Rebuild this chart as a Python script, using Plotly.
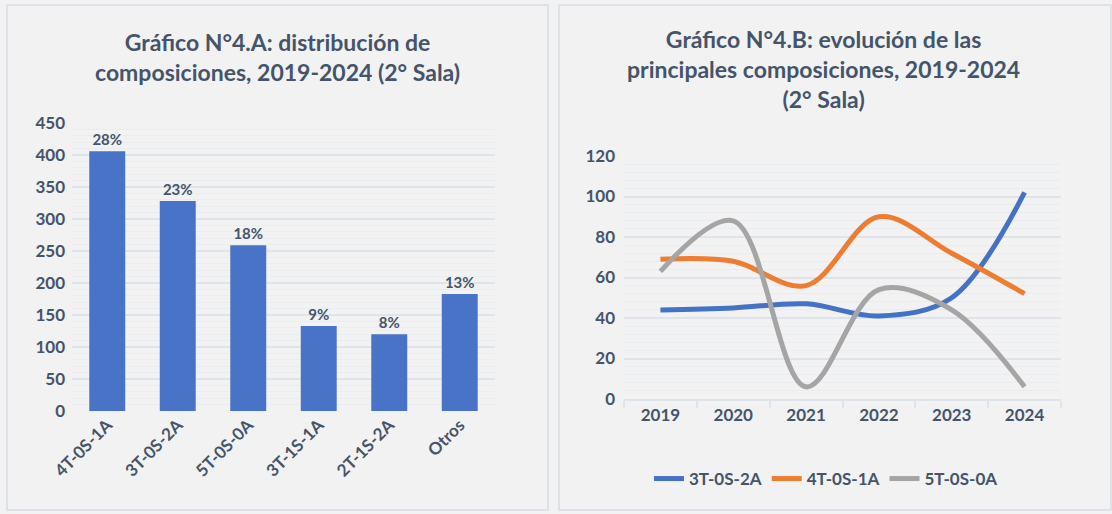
import plotly.graph_objects as go

# datos
composiciones = ["4T-0S-1A", "3T-0S-2A", "5T-0S-0A", "3T-1S-1A", "2T-1S-2A", "Otros"]
cantidad = [406, 328, 259, 133, 120, 183]
porcentaje = ["28%", "23%", "18%", "9%", "8%", "13%"]

anios = ["2019", "2020", "2021", "2022", "2023", "2024"]
s_3t0s2a = [44, 45, 47, 41, 50, 102]
s_4t0s1a = [69, 68, 56, 90, 72, 52]
s_5t0s0a = [63, 88, 6, 54, 44, 6]

W, H = 1112, 514
FONT = "Lato"
TXT = "#44546a"
GRID = "#dfe4ea"
MINOR = "#e9ecf0"


def px_x(x):
    return x / W


def px_y(y):
    return 1 - y / H


fig = go.Figure()

# Grafico A: barras
fig.add_trace(go.Bar(
    x=composiciones, y=cantidad, text=porcentaje,
    textposition="outside", cliponaxis=False,
    textfont=dict(size=15, color=TXT, family=FONT, weight="bold"),
    marker=dict(color="#4873c6", line_width=0),
    width=0.51, showlegend=False, xaxis="x", yaxis="y",
))

# Grafico B: lineas
series = [("3T-0S-2A", s_3t0s2a, "#4472c4"),
          ("4T-0S-1A", s_4t0s1a, "#ed7d31"),
          ("5T-0S-0A", s_5t0s0a, "#a5a5a5")]
for nombre, vals, col in series:
    fig.add_trace(go.Scatter(
        x=anios, y=vals, name=nombre, mode="lines",
        line=dict(color=col, width=5, shape="spline", smoothing=1),
        xaxis="x2", yaxis="y2",
    ))

tickfont = dict(size=17, color=TXT, family=FONT, weight="bold")

fig.update_layout(
    width=W, height=H,
    margin=dict(l=0, r=0, t=0, b=0),
    paper_bgcolor="#f2f2f2", plot_bgcolor="rgba(0,0,0,0)",
    font=dict(family=FONT, color=TXT),
    xaxis=dict(domain=[px_x(72), px_x(495)], range=[-0.5, 5.5], tickangle=-45,
               tickfont=tickfont, showgrid=False, zeroline=False, ticks="",
               automargin=False),
    yaxis=dict(domain=[px_y(411), px_y(123)], range=[0, 450], dtick=50,
               tickfont=tickfont, gridcolor=GRID, gridwidth=2, zeroline=False,
               ticklabelstandoff=6, automargin=False,
               minor=dict(dtick=10, showgrid=True, gridcolor=MINOR, gridwidth=1)),
    xaxis2=dict(domain=[px_x(624), px_x(1061)], range=[-0.5, 5.5], anchor="y2",
                tickfont=tickfont, showgrid=False, zeroline=False,
                showline=True, linecolor=GRID, linewidth=2,
                ticks="outside", tickson="boundaries", ticklen=7, tickcolor=GRID,
                tickwidth=2, automargin=False),
    yaxis2=dict(domain=[px_y(399), px_y(156)], range=[0, 120], dtick=20, anchor="x2",
                tickfont=tickfont, gridcolor=GRID, gridwidth=2, zeroline=False,
                ticklabelstandoff=8, automargin=False,
                minor=dict(dtick=4, showgrid=True, gridcolor=MINOR, gridwidth=1)),
    legend=dict(orientation="h", x=px_x(826), xanchor="center", y=px_y(479),
                yanchor="middle", bgcolor="rgba(0,0,0,0)",
                font=dict(size=17, color=TXT, family=FONT, weight="bold"),
                itemwidth=30, tracegroupgap=0),
    bargap=0.49,
)

# marcos de cada panel
for x0, x1 in [(7, 548), (559, 1111)]:
    fig.add_shape(type="rect", xref="paper", yref="paper",
                  x0=px_x(x0), x1=px_x(x1), y0=px_y(510), y1=px_y(5),
                  line=dict(color="#dde2e8", width=2), fillcolor="rgba(0,0,0,0)",
                  layer="below")

titulo = dict(size=23, color=TXT, family=FONT, weight="bold")
fig.add_annotation(text="Gráfico N°4.A: distribución de<br>composiciones, 2019-2024 (2° Sala)",
                   xref="paper", yref="paper", x=px_x(277), y=px_y(57),
                   xanchor="center", yanchor="middle",
                   showarrow=False, font=titulo, align="center")
fig.add_annotation(text="Gráfico N°4.B: evolución de las<br>principales composiciones, 2019-2024<br>(2° Sala)",
                   xref="paper", yref="paper", x=px_x(824), y=px_y(69),
                   xanchor="center", yanchor="middle",
                   showarrow=False, font=titulo, align="center")

# quitar el margen del body para que la figura empiece en (0, 0)
fig.write_html("out.html", config={"displayModeBar": False},
               post_script="document.body.style.margin='0';"
                           "document.body.style.background='#f2f2f2';")
